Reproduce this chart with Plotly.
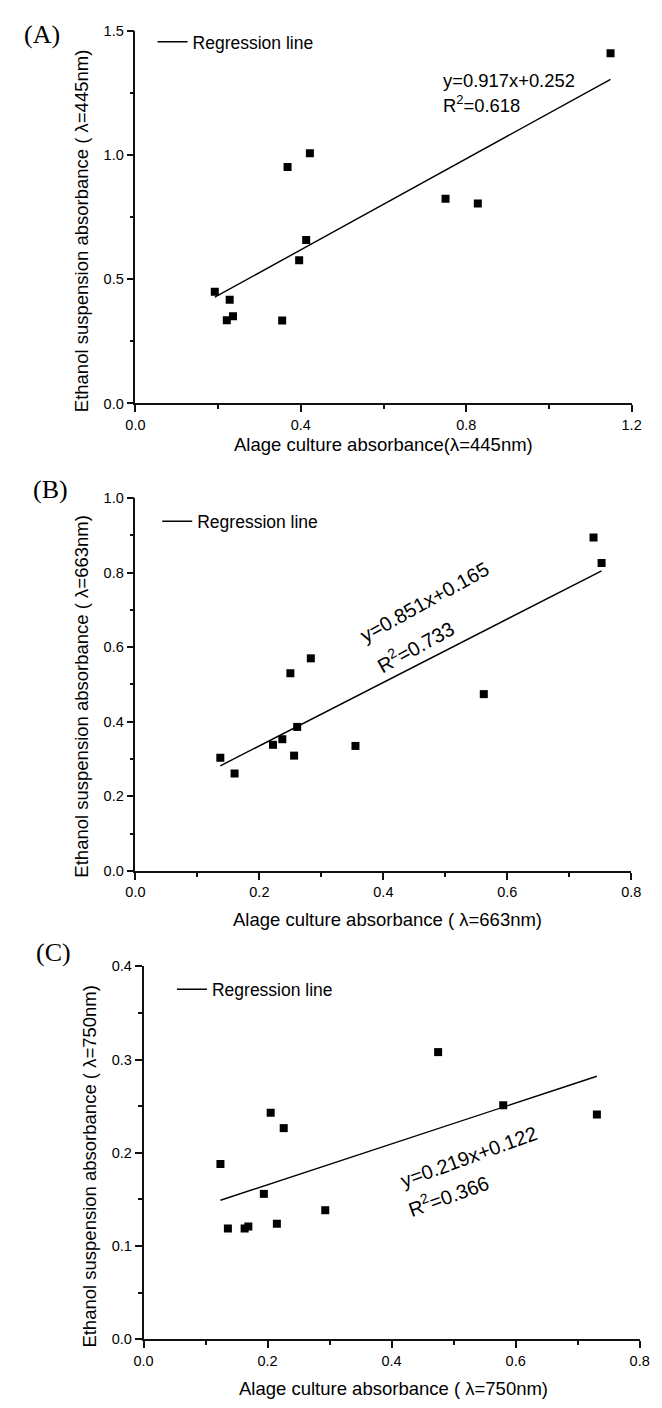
import plotly.graph_objects as go

# ---------------- data ----------------
a_x = [0.192, 0.228, 0.221, 0.236, 0.355, 0.368, 0.422, 0.396, 0.413, 0.750, 0.828, 1.149]
a_y = [0.450, 0.418, 0.335, 0.351, 0.334, 0.952, 1.008, 0.577, 0.658, 0.825, 0.805, 1.411]
a_fit = [0.917, 0.252]   # slope, intercept
a_r2 = "0.618"

b_x = [0.137, 0.160, 0.222, 0.237, 0.256, 0.261, 0.250, 0.283, 0.355, 0.562, 0.739, 0.752]
b_y = [0.303, 0.261, 0.338, 0.353, 0.309, 0.386, 0.530, 0.570, 0.335, 0.474, 0.894, 0.826]
b_fit = [0.851, 0.165]
b_r2 = "0.733"

c_x = [0.124, 0.136, 0.163, 0.169, 0.194, 0.205, 0.215, 0.226, 0.293, 0.475, 0.580, 0.731]
c_y = [0.188, 0.119, 0.119, 0.121, 0.156, 0.243, 0.124, 0.2265, 0.1385, 0.308, 0.251, 0.241]
c_fit = [0.219, 0.122]
c_r2 = "0.366"

panel_labels = ["(A)", "(B)", "(C)"]
x_titles = ["Alage culture absorbance(λ=445nm)",
            "Alage culture absorbance ( λ=663nm)",
            "Alage culture absorbance ( λ=750nm)"]
y_titles = ["Ethanol suspension absorbance ( λ=445nm)",
            "Ethanol suspension absorbance ( λ=663nm)",
            "Ethanol suspension absorbance ( λ=750nm)"]
x_ranges = [[0, 1.2], [0, 0.8], [0, 0.8]]
y_ranges = [[0, 1.5], [0, 1.0], [0, 0.4]]
x_dticks = [0.4, 0.2, 0.2]
y_dticks = [0.5, 0.2, 0.1]
legend_name = "Regression line"

# ---------------- layout constants ----------------
W, H = 662, 1408
SANS = "Liberation Sans, Arial, sans-serif"
SERIF = "Liberation Serif, Times New Roman, serif"
AX = "#111111"

def px2x(p):
    return p / W

def px2y(p):
    return 1 - p / H

# plot areas in pixels: left, right, top, bottom
areas = [(129.3, 641.0, 23.3, 400.0),
         (129.3, 640.7, 495.7, 872.7),
         (137.7, 649.3, 969.3, 1346.7)]

fig = go.Figure()

panels = [(a_x, a_y, a_fit), (b_x, b_y, b_fit), (c_x, c_y, c_fit)]
for i, (xs, ys, fit) in enumerate(panels):
    sfx = "" if i == 0 else str(i + 1)
    xa, ya = "x" + sfx, "y" + sfx
    leg = "legend" + sfx
    fig.add_trace(go.Scatter(
        x=xs, y=ys, mode="markers", xaxis=xa, yaxis=ya,
        marker=dict(symbol="square", size=8, color="black", line=dict(width=0)),
        showlegend=False))
    x0, x1 = min(xs), max(xs)
    fig.add_trace(go.Scatter(
        x=[x0, x1], y=[fit[0] * x0 + fit[1], fit[0] * x1 + fit[1]],
        mode="lines", xaxis=xa, yaxis=ya, name=legend_name, legend=leg,
        line=dict(color="black", width=1.4), showlegend=True))

    l, r, t, b = areas[i]
    axis_common = dict(showline=True, linecolor=AX, linewidth=1.5,
                       ticks="outside", ticklen=7, tickwidth=1.5, tickcolor=AX,
                       showgrid=False, zeroline=False, tickformat=".1f",
                       tickfont=dict(family=SANS, size=14.5, color="black"))
    fig.layout["xaxis" + sfx] = dict(
        domain=[px2x(l), px2x(r)], anchor=ya, range=x_ranges[i],
        dtick=x_dticks[i], tick0=0,
        minor=dict(ticks="outside", ticklen=4, tickwidth=1.5, tickcolor=AX,
                   dtick=x_dticks[i] / 2, showgrid=False),
        **axis_common)
    fig.layout["yaxis" + sfx] = dict(
        domain=[px2y(b), px2y(t)], anchor=xa, range=y_ranges[i],
        dtick=y_dticks[i], tick0=0,
        minor=dict(ticks="outside", ticklen=4, tickwidth=1.5, tickcolor=AX,
                   dtick=y_dticks[i] / 2, showgrid=False),
        **axis_common)

# legends
leg_pos = [(153.0, 34.3), (157.8, 519.3), (173.0, 992.7)]
for i, (lx, ly) in enumerate(leg_pos):
    sfx = "" if i == 0 else str(i + 1)
    fig.layout["legend" + sfx] = dict(
        x=px2x(lx - 6), y=px2y(ly), xanchor="left", yanchor="middle",
        bgcolor="rgba(0,0,0,0)", borderwidth=0,
        font=dict(family=SANS, size=17.5, color="black"))

annotations = []
# panel labels
label_pos = [(33, 27), (42, 487), (45, 955)]
for lab, (px_, py_) in zip(panel_labels, label_pos):
    annotations.append(dict(text=lab, x=px2x(px_), y=px2y(py_), xref="paper", yref="paper",
                            showarrow=False, xanchor="center", yanchor="middle",
                            font=dict(family=SERIF, size=26, color="black")))
# axis titles
xt_pos = [(385, 442), (389, 921.7), (395.5, 1396.7)]
yt_pos = [(74, 225), (74.3, 696.5), (81.9, 1171.5)]
for i in range(3):
    annotations.append(dict(text=x_titles[i], x=px2x(xt_pos[i][0]), y=px2y(xt_pos[i][1]),
                            xref="paper", yref="paper", showarrow=False,
                            xanchor="center", yanchor="middle",
                            font=dict(family=SANS, size=18.5, color="black")))
    annotations.append(dict(text=y_titles[i], x=px2x(yt_pos[i][0]), y=px2y(yt_pos[i][1]),
                            xref="paper", yref="paper", showarrow=False, textangle=-90,
                            xanchor="center", yanchor="middle",
                            font=dict(family=SANS, size=18.5, color="black")))

# regression equations
fits = [a_fit, b_fit, c_fit]
r2s = [a_r2, b_r2, c_r2]
eq_pos = [(0.740, 1.302, 0), (0.467, 0.7207, -29), (0.524, 0.196, -20)]
r2_pos = [(0.740, 1.207, 0), (0.4516, 0.604, -29), (0.4915, 0.1555, -20)]
eq_sizes = [18.4, 20, 20]
for i in range(3):
    sfx = "" if i == 0 else str(i + 1)
    anchor = "left" if i == 0 else "center"
    eq = "y=%.3fx+%.3f" % (fits[i][0], fits[i][1])
    annotations.append(dict(text=eq, x=eq_pos[i][0], y=eq_pos[i][1],
                            xref="x" + sfx, yref="y" + sfx, showarrow=False,
                            textangle=eq_pos[i][2], xanchor=anchor, yanchor="middle",
                            font=dict(family=SANS, size=eq_sizes[i], color="black")))
    annotations.append(dict(text="R<sup>2</sup>=" + r2s[i], x=r2_pos[i][0], y=r2_pos[i][1],
                            xref="x" + sfx, yref="y" + sfx, showarrow=False,
                            textangle=r2_pos[i][2], xanchor=anchor, yanchor="middle",
                            font=dict(family=SANS, size=eq_sizes[i], color="black")))

fig.update_layout(width=W, height=H, margin=dict(l=0, r=0, t=0, b=0),
                  paper_bgcolor="white", plot_bgcolor="white",
                  annotations=annotations)

fig.write_html("out.html")
